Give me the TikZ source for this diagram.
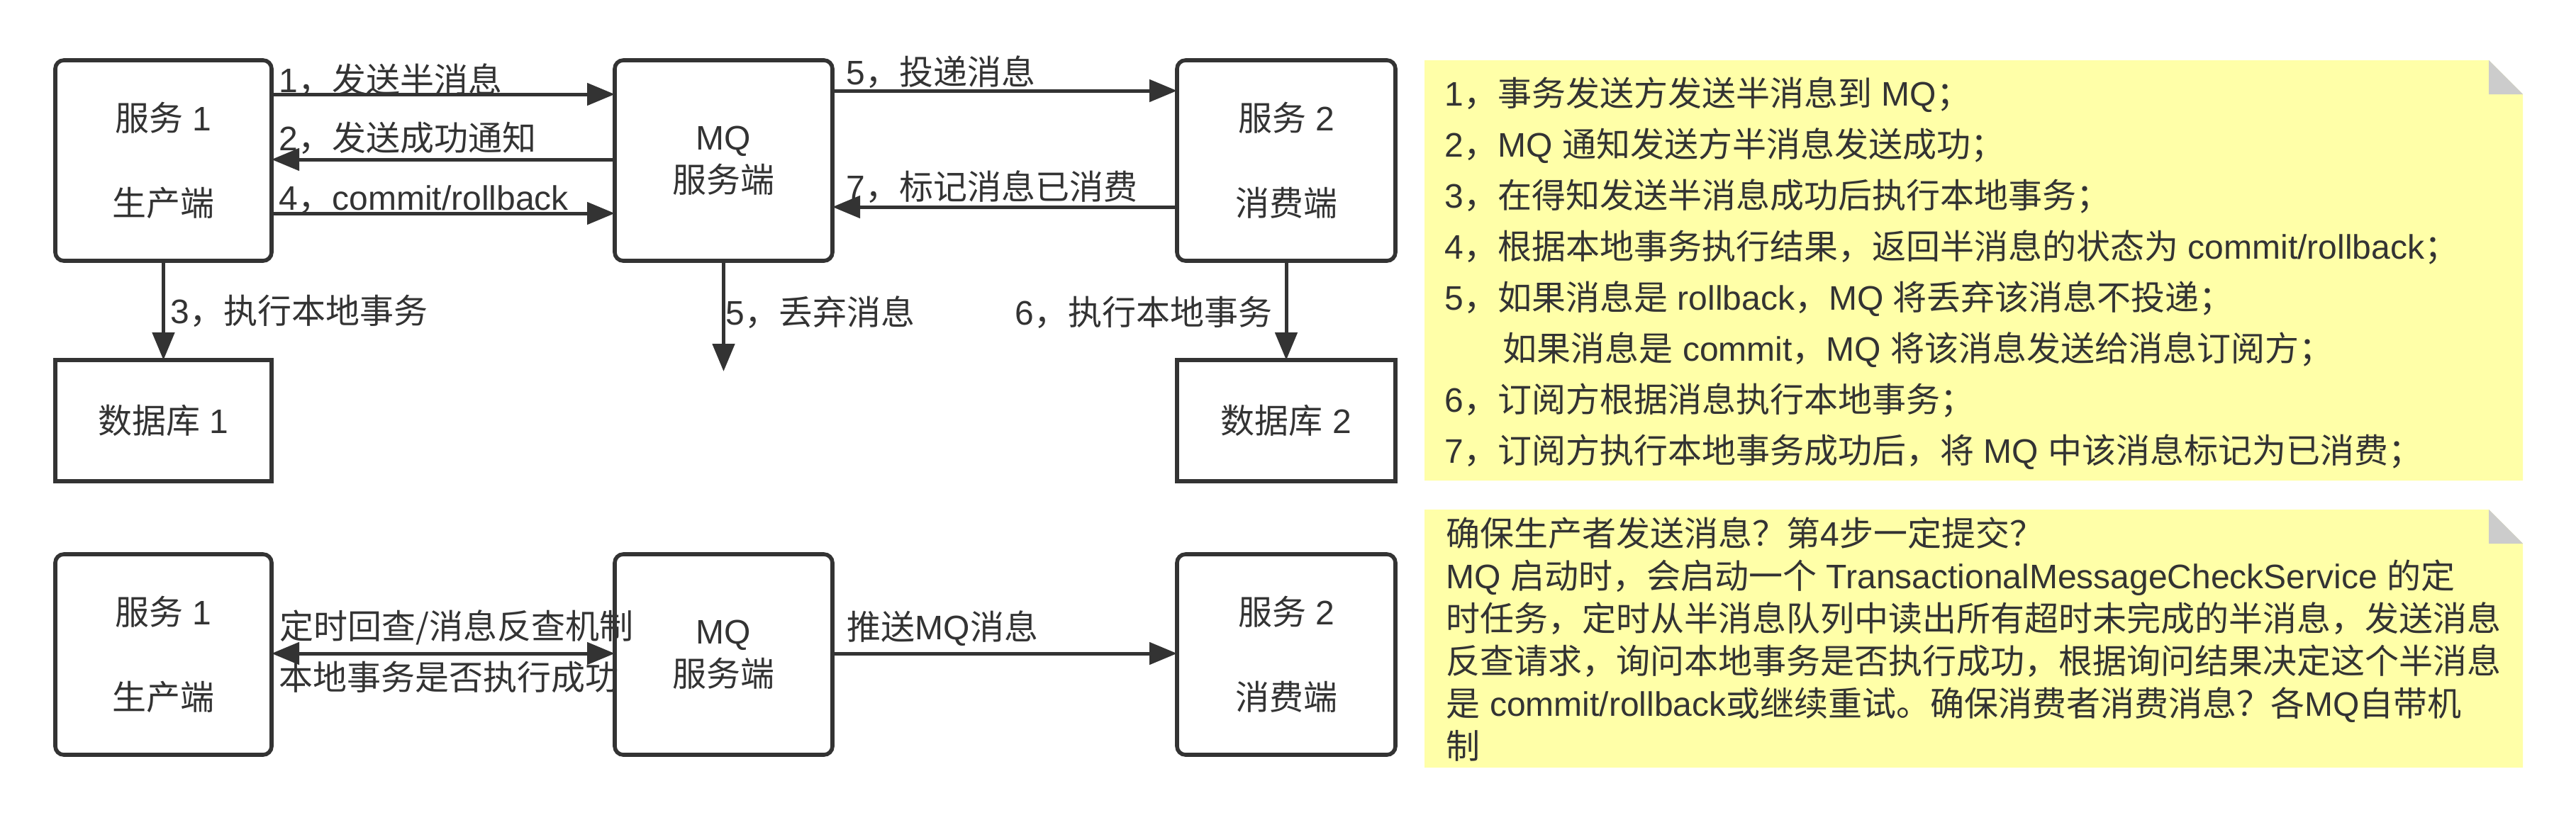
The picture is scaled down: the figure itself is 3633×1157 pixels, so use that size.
\documentclass[tikz,border=0pt]{standalone}
\usepackage{fontspec}
\setmainfont{Noto Sans CJK SC}
\newfontfamily\latf{Liberation Sans}
\newcommand\lx[1]{{\latf #1}}
\usetikzlibrary{arrows.meta}
\definecolor{ink}{HTML}{333333}
\definecolor{notefill}{HTML}{FFFFA8}
\definecolor{foldgrey}{HTML}{CCCCCC}
\begin{document}
\begin{tikzpicture}[x=0.25pt,y=-0.25pt,
  every node/.style={text=ink, font=\fontsize{12}{15}\selectfont},
  box/.style={draw=ink, line width=1.4pt, fill=white, rounded corners=3pt,
    outer sep=0pt, inner sep=0pt, align=center},
  dbbox/.style={box, rounded corners=0pt},
  tip/.tip={Triangle[length=9.75pt,width=7.75pt]},
  arr/.style={draw=ink, line width=1.25pt, -tip},
  darr/.style={draw=ink, line width=1.25pt, tip-tip},
  lbl/.style={anchor=base west, inner sep=0pt},
  notebody/.style={fill=notefill, draw=none},
  notefold/.style={fill=foldgrey, draw=none}
]
\useasboundingbox (0,0) rectangle (3633,1157);

% ---------- top row boxes ----------
\node[box, minimum width=76.25pt, minimum height=70.75pt] (s1) at (230.5,226.5)
  {服务\lx{ 1}\\[15pt]生产端};
\node[box, minimum width=76.75pt, minimum height=70.75pt] (mq) at (1020.5,226.5)
  {\lx{MQ}\\服务端};
\node[box, minimum width=77pt, minimum height=70.75pt] (s2) at (1814,226.5)
  {服务\lx{ 2}\\[15pt]消费端};
\node[dbbox, minimum width=76.25pt, minimum height=42.75pt] (db1) at (230.5,593.5)
  {数据库\lx{ 1}};
\node[dbbox, minimum width=77pt, minimum height=42.75pt] (db2) at (1814,593.5)
  {数据库\lx{ 2}};
\coordinate (drop) at (1020.5,524);

% ---------- top row connectors ----------
\draw[arr] (s1.east |- 0,133) -- (mq.west |- 0,133);
\draw[arr] (mq.west |- 0,225) -- (s1.east |- 0,225);
\draw[arr] (s1.east |- 0,301) -- (mq.west |- 0,301);
\draw[arr] (mq.east |- 0,128) -- (s2.west |- 0,128);
\draw[arr] (s2.west |- 0,292) -- (mq.east |- 0,292);
\draw[arr] (s1.south) -- (db1.north);
\draw[arr] (mq.south) -- (drop);
\draw[arr] (s2.south) -- (db2.north);

% ---------- top row labels ----------
\node[lbl] (l1) at (393,130) {\lx{1}，发送半消息};
\node[lbl] (l2) at (393,212) {\lx{2}，发送成功通知};
\node[lbl] (l4) at (393,296) {\lx{4}，\lx{commit/rollback}};
\node[lbl] (l3) at (240,456) {\lx{3}，执行本地事务};
\node[lbl] (l5a) at (1193,119) {\lx{5}，投递消息};
\node[lbl] (l7) at (1193,281) {\lx{7}，标记消息已消费};
\node[lbl] (l5b) at (1023,458) {\lx{5}，丢弃消息};
\node[lbl] (l6) at (1431,458) {\lx{6}，执行本地事务};

% ---------- bottom row boxes ----------
\node[box, minimum width=76.25pt, minimum height=70.75pt] (s1b) at (230.5,923.5)
  {服务\lx{ 1}\\[15pt]生产端};
\node[box, minimum width=76.75pt, minimum height=70.75pt] (mqb) at (1020.5,923.5)
  {\lx{MQ}\\服务端};
\node[box, minimum width=77pt, minimum height=70.75pt] (s2b) at (1814,923.5)
  {服务\lx{ 2}\\[15pt]消费端};

\draw[darr] (s1b.east |- 0,922) -- (mqb.west |- 0,922);
\draw[arr] (mqb.east |- 0,922) -- (s2b.west |- 0,922);

\node[lbl] (lb1) at (394,901) {定时回查/消息反查机制};
\node[lbl] (lb2) at (393,973) {本地事务是否执行成功};
\node[lbl] (lb3) at (1194,902) {推送\lx{MQ}消息};

% ---------- note 1 ----------
\fill[notebody] (2009,85) -- (3510,85) -- (3558,133) -- (3558,678) -- (2009,678) -- cycle;
\fill[notefold] (3510,85) -- (3510,133) -- (3558,133) -- cycle;
\node[lbl] (na1) at (2037,149) {\lx{1}，事务发送方发送半消息到\lx{ MQ}；};
\node[lbl] (na2) at (2037,221) {\lx{2}，\lx{MQ }通知发送方半消息发送成功；};
\node[lbl] (na3) at (2037,293) {\lx{3}，在得知发送半消息成功后执行本地事务；};
\node[lbl] (na4) at (2037,365) {\lx{4}，根据本地事务执行结果，返回半消息的状态为\lx{ commit/rollback}；};
\node[lbl] (na5) at (2037,437) {\lx{5}，如果消息是\lx{ rollback}，\lx{MQ }将丢弃该消息不投递；};
\node[lbl] (na6) at (2119,509) {如果消息是\lx{ commit}，\lx{MQ }将该消息发送给消息订阅方；};
\node[lbl] (na7) at (2037,581) {\lx{6}，订阅方根据消息执行本地事务；};
\node[lbl] (na8) at (2037,653) {\lx{7}，订阅方执行本地事务成功后，将\lx{ MQ }中该消息标记为已消费；};

% ---------- note 2 ----------
\fill[notebody] (2009,719) -- (3510,719) -- (3558,767) -- (3558,1083) -- (2009,1083) -- cycle;
\fill[notefold] (3510,719) -- (3510,767) -- (3558,767) -- cycle;
\node[lbl] (nb1) at (2039,770) {确保生产者发送消息？第\lx{4}步一定提交？};
\node[lbl] (nb2) at (2039,830) {\lx{MQ }启动时，会启动一个\lx{ TransactionalMessageCheckService }的定};
\node[lbl] (nb3) at (2039,890) {时任务，定时从半消息队列中读出所有超时未完成的半消息，发送消息};
\node[lbl] (nb4) at (2039,950) {反查请求，询问本地事务是否执行成功，根据询问结果决定这个半消息};
\node[lbl] (nb5) at (2039,1010) {是\lx{ commit/rollback}或继续重试。确保消费者消费消息？各\lx{MQ}自带机};
\node[lbl] (nb6) at (2039,1070) {制};
\end{tikzpicture}
\end{document}
